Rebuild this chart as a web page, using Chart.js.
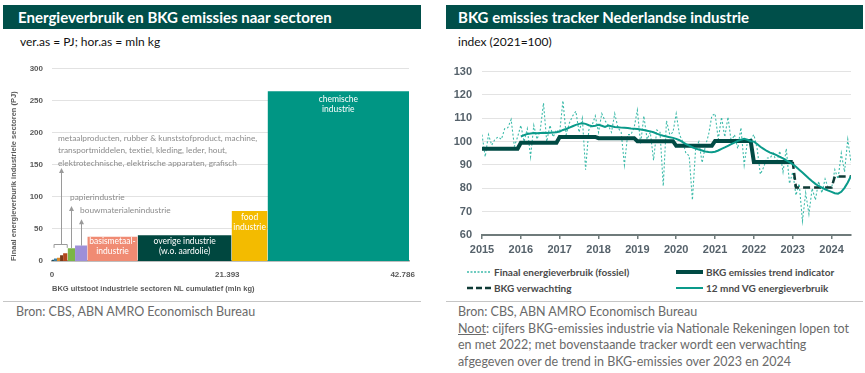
<!DOCTYPE html>
<html lang="nl">
<head>
<meta charset="utf-8">
<title>Energieverbruik en BKG emissies</title>
<script src="https://cdn.jsdelivr.net/npm/chart.js@4.4.1/dist/chart.umd.min.js"></script>
<style>
  body { margin: 0; width: 865px; height: 373px; background: #fff; position: relative; overflow: hidden; font-family: Lato, "Open Sans", sans-serif; }
  .titlebar { position: absolute; top: 5px; height: 24px; background: #004f4a; color: #fff; font-weight: 700; font-size: 15px; line-height: 24px; white-space: nowrap; }
  .sub { position: absolute; top: 34px; font-size: 12px; color: #111; white-space: nowrap; }
  .box { position: absolute; }
  .sep { position: absolute; top: 301px; height: 1px; background: #c6c6c6; }
  .note { position: absolute; top: 304px; font-size: 12.5px; line-height: 16.6px; color: #6a6a6a; }
  .leg { position: absolute; display: flex; align-items: center; font-size: 10px; font-weight: 700; color: #4a4a4a; white-space: nowrap; }
  .leg svg { margin-right: 3px; }
</style>
</head>
<body>
<div class="titlebar" style="left:3px;width:403px;padding-left:15px">Energieverbruik en BKG emissies naar sectoren</div>
<div class="sub" style="left:20px">ver.as = PJ; hor.as = mln kg</div>
<div class="box" style="left:5px;top:55px;width:415px;height:243px"><canvas id="sectorChart"></canvas></div>
<div class="sep" style="left:3px;width:418px"></div>
<div class="note" style="left:16px">Bron: CBS, ABN AMRO Economisch Bureau</div>

<div class="titlebar" style="left:446px;width:405px;padding-left:12px">BKG emissies tracker Nederlandse industrie</div>
<div class="sub" style="left:458px">index (2021=100)</div>
<div class="box" style="left:446px;top:55px;width:416px;height:210px"><canvas id="trackerChart"></canvas></div>
<div class="leg" style="left:467px;top:266px"><svg width="24" height="6"><line x1="0" y1="3" x2="24" y2="3" stroke="#3dbbaa" stroke-width="1.5" stroke-dasharray="2,1.5"/></svg>Finaal energieverbruik (fossiel)</div>
<div class="leg" style="left:676px;top:266px"><svg width="27" height="6"><line x1="0" y1="3" x2="27" y2="3" stroke="#004a44" stroke-width="4"/></svg>BKG emissies trend indicator</div>
<div class="leg" style="left:467px;top:282px"><svg width="24" height="6"><line x1="0" y1="3" x2="24" y2="3" stroke="#0f3b36" stroke-width="2.5" stroke-dasharray="6,3"/></svg>BKG verwachting</div>
<div class="leg" style="left:676px;top:282px"><svg width="27" height="6"><line x1="0" y1="3" x2="27" y2="3" stroke="#0a9a8a" stroke-width="2"/></svg>12 mnd VG energieverbruik</div>
<div class="sep" style="left:446px;width:417px"></div>
<div class="note" style="left:458px">Bron: CBS, ABN AMRO Economisch Bureau<br><u>Noot</u>: cijfers BKG-emissies industrie via Nationale Rekeningen lopen tot<br>en met 2022; met bovenstaande tracker wordt een verwachting<br>afgegeven over de trend in BKG-emissies over 2023 en 2024</div>

<script>
// ---- left chart: sectors (width = BKG uitstoot, height = energieverbruik) ----
const sectorNames = ["overig 1", "overig 2", "overig 3", "overig 4", "overig 5", "papierindustrie",
  "bouwmaterialenindustrie", "basismetaalindustrie", "overige industrie", "food industrie", "chemische industrie"];
const sectorEmissions = [240, 370, 370, 370, 550, 910, 1500, 6140, 11460, 4390, 17260]; // mln kg
const sectorEnergy = [2, 4, 5, 9, 12, 20, 24, 38, 40, 78, 265]; // PJ
const sectorColors = ["#1d4e5f", "#3f7fa0", "#d98a2b", "#7a3b1a", "#b4471c", "#7bb547",
  "#9d8fd8", "#f08b73", "#00473f", "#f3bb00", "#009684"];
const emissionTicks = [0, 21393, 42786];
const emissionTickLabels = ["0", "21.393", "42.786"];
const energyTicks = [0, 50, 100, 150, 200, 250, 300];

const sectorStarts = [];
sectorEmissions.reduce((acc, w) => { sectorStarts.push(acc); return acc + w; }, 0);
const emissionTotal = sectorEmissions.reduce((a, b) => a + b, 0);

const barLabels = [
  { sector: "basismetaalindustrie", lines: ["basismetaal-", "industrie"], y: 30.5 },
  { sector: "overige industrie", lines: ["overige industrie", "(w.o. aardolie)"], y: 31 },
  { sector: "food industrie", lines: ["food", "industrie"], y: 68 },
  { sector: "chemische industrie", lines: ["chemische", "industrie"], y: 252.5 },
];
const greyNotes = [
  { text: "metaalproducten, rubber & kunststofproduct, machine,", x: 730, y: 191 },
  { text: "transportmiddelen, textiel, kleding, leder, hout,", x: 730, y: 172 },
  { text: "elektrotechnische, elektrische apparaten, grafisch", x: 730, y: 153 },
  { text: "papierindustrie", x: 2200, y: 99 },
  { text: "bouwmaterialenindustrie", x: 3420, y: 79.5 },
];
const arrows = [
  { x: 1060, from: 25.8, to: 145 },
  { x: 2355, from: 20, to: 86 },
  { x: 3560, from: 24, to: 65 },
];
const bracket = { from: 250, to: 1860, y: 25.8, foot: 20.5 };

const sectorNotes = {
  id: "sectorNotes",
  afterDatasetsDraw(chart) {
    const { ctx, scales: { x, y } } = chart;
    ctx.save();
    ctx.textAlign = "center";
    ctx.textBaseline = "middle";
    ctx.fillStyle = "#ffffff";
    ctx.font = "8.5px Lato";
    barLabels.forEach((l) => {
      const i = sectorNames.indexOf(l.sector);
      const cx = x.getPixelForValue(sectorStarts[i] + sectorEmissions[i] / 2);
      l.lines.forEach((t, k) => ctx.fillText(t, cx, y.getPixelForValue(l.y) + k * 10));
    });

    ctx.fillStyle = "#8c8c8c";
    ctx.textAlign = "left";
    ctx.font = "8.3px Lato";
    greyNotes.forEach((n) => ctx.fillText(n.text, x.getPixelForValue(n.x), y.getPixelForValue(n.y)));

    ctx.strokeStyle = "#9a9a9a";
    ctx.lineWidth = 1;
    arrows.forEach((a) => {
      const px = Math.round(x.getPixelForValue(a.x)) + 0.5;
      const y0 = y.getPixelForValue(a.from);
      const y1 = y.getPixelForValue(a.to);
      ctx.beginPath();
      ctx.moveTo(px, y0);
      ctx.lineTo(px, y1 + 4);
      ctx.stroke();
      ctx.beginPath();
      ctx.moveTo(px, y1);
      ctx.lineTo(px - 2.5, y1 + 5);
      ctx.lineTo(px + 2.5, y1 + 5);
      ctx.closePath();
      ctx.fillStyle = "#9a9a9a";
      ctx.fill();
    });
    const bx0 = x.getPixelForValue(bracket.from);
    const bx1 = x.getPixelForValue(bracket.to);
    const by = Math.round(y.getPixelForValue(bracket.y)) + 0.5;
    const bf = y.getPixelForValue(bracket.foot);
    ctx.beginPath();
    ctx.moveTo(bx0, bf);
    ctx.lineTo(bx0, by);
    ctx.lineTo(bx1, by);
    ctx.lineTo(bx1, bf);
    ctx.stroke();
    ctx.restore();
  },
};

const axisGrey = "#5a5a5a";
new Chart(document.getElementById("sectorChart"), {
  type: "line",
  data: {
    datasets: sectorNames.map((name, i) => ({
      label: name,
      data: [
        { x: sectorStarts[i], y: sectorEnergy[i] },
        { x: sectorStarts[i] + sectorEmissions[i], y: sectorEnergy[i] },
      ],
      fill: "origin",
      backgroundColor: sectorColors[i],
      borderWidth: 0,
      pointRadius: 0,
      tension: 0,
    })),
  },
  options: {
    responsive: true,
    maintainAspectRatio: false,
    animation: false,
    layout: { padding: { top: 12, right: 11 } },
    plugins: { legend: { display: false }, tooltip: { enabled: false } },
    scales: {
      x: {
        type: "linear",
        min: 0,
        max: emissionTotal,
        afterBuildTicks: (scale) => { scale.ticks = emissionTicks.map((v) => ({ value: v })); },
        afterFit: (scale) => { scale.height = 37; },
        ticks: {
          callback: (v) => emissionTickLabels[emissionTicks.indexOf(v)],
          color: axisGrey,
          font: { size: 8, weight: "bold" },
          padding: 1,
          maxRotation: 0,
          autoSkip: false,
        },
        grid: { display: false },
        border: { display: true, color: "#9a9a9a", width: 1.5 },
        title: {
          display: true,
          align: "start",
          text: "BKG uitstoot industriele sectoren NL cumulatief (mln kg)",
          color: axisGrey,
          font: { size: 7.5, weight: "bold" },
          padding: { top: 0, bottom: 5 },
        },
      },
      y: {
        min: 0,
        max: 300,
        afterBuildTicks: (scale) => { scale.ticks = energyTicks.map((v) => ({ value: v })); },
        afterFit: (scale) => { scale.width = 47; },
        ticks: { color: axisGrey, font: { size: 8, weight: "bold" }, padding: 9 },
        grid: { color: "#e2e2e2", drawTicks: false },
        border: { display: false },
        title: {
          display: true,
          align: "start",
          text: "Finaal energieverburik industriele sectoren (PJ)",
          color: axisGrey,
          font: { size: 7.5, weight: "bold" },
          padding: { top: 4, bottom: 0 },
        },
      },
    },
  },
  plugins: [sectorNotes],
});

// ---- right chart: monthly index 2021=100, Jan 2015 - Jul 2024 ----
const firstYear = 2015;
const yearTicks = [2015, 2016, 2017, 2018, 2019, 2020, 2021, 2022, 2023, 2024];
const indexTicks = [60, 70, 80, 90, 100, 110, 120, 130];

// Finaal energieverbruik (fossiel), from 2015-01
const fossielMonthly = [
  103, 93.5, 103, 98.5, 101, 102, 101, 105.5, 106, 109.5, 98, 102,
  107, 100, 105.5, 93.5, 107, 101, 105, 116.5, 100, 107, 102, 105,
  104, 117.5, 103, 108, 111, 113, 104, 110, 88, 105, 107, 111,
  104, 112, 109, 107, 104, 112, 106, 104, 90, 103, 103, 106,
  113.5, 99, 111, 101, 104, 92, 105, 104, 81, 109, 103, 104,
  112, 103, 100, 95, 94, 75, 97, 100, 91, 98, 103, 111,
  112, 101, 110.5, 102, 110.5, 100, 103, 97, 106, 90, 100, 101,
  103, 97, 86, 89, 93, 93, 95, 91, 96, 87, 97, 82,
  87, 77, 82, 66, 78, 69, 80, 75, 83, 78, 84, 80,
  80, 88, 84, 95, 87, 101, 91,
];
// BKG emissies trend indicator, from 2015-01 to 2023-01
const trendIndicator = [
  97, 97, 97, 97, 97, 97, 97, 97, 97, 97, 97, 97,
  99.5, 99.5, 99.5, 99.5, 99.5, 99.5, 99.5, 99.5, 99.5, 99.5, 99.5, 99.5,
  102, 102, 102, 102, 102, 102, 102, 102, 102, 102, 102, 102,
  101.5, 101.5, 101.5, 101.5, 101.5, 101.5, 101.5, 101.5, 101.5, 101.5, 101.5, 101.5,
  100.2, 100.2, 100.2, 100.2, 100.2, 100.2, 100.2, 100.2, 100.2, 100.2, 100.2, 100.2,
  98.2, 98.2, 98.2, 98.2, 98.2, 98.2, 98.2, 98.2, 98.2, 98.2, 98.2, 98.2,
  100.3, 100.3, 100.3, 100.3, 100.3, 100.3, 100.3, 100.3, 100.3, 100.3, 100.3, 100.3,
  91.3, 91.3, 91.3, 91.3, 91.3, 91.3, 91.3, 91.3, 91.3, 91.3, 91.3, 91.3,
  91.3,
];
// BKG verwachting, from 2023-01
const verwachtingStart = 96;
const verwachting = [
  91.3, 80.3, 80.3, 80.3, 80.3, 80.3, 80.3, 80.3, 80.3, 80.3, 80.3, 80.3,
  80.3, 85.1, 85.1, 85.1, 85.1, 85.1, 85.1,
];
// 12 mnd VG energieverbruik, from 2016-01
const vgStart = 12;
const vg12 = [
  102.2, 102.8, 103.3, 103.5, 103.7, 103.6, 103.7, 103.8, 103.7, 103.8, 103.9, 104.0,
  104.3, 105.0, 105.4, 106.0, 106.6, 107.2, 107.6, 107.9, 107.6, 107.0, 106.6, 106.8,
  107.2, 106.8, 106.3, 106.9, 106.6, 106.3, 106.2, 106.0, 105.9, 105.8, 105.6, 105.5,
  105.4, 105.2, 105.0, 104.7, 104.4, 104.0, 103.4, 102.9, 102.5, 102.2, 101.9, 101.6,
  101.2, 100.6, 99.8, 98.9, 98.3, 97.6, 97.0, 96.6, 96.2, 95.8, 95.6, 95.5,
  95.7, 96.2, 96.9, 97.5, 98.2, 98.9, 99.6, 100.3, 100.8, 101.2, 100.8, 100.2,
  100.0, 99.0, 97.8, 96.9, 96.0, 95.3, 94.8, 94.2, 93.5, 92.8, 92.0, 91.2,
  90.3, 89.2, 88.0, 86.8, 85.5, 84.2, 83.0, 81.9, 81.0, 80.3, 79.6, 79.0,
  78.5, 77.9, 77.7, 78.5, 80.2, 82.5, 85.3,
];

const toPoints = (values, start) => values.map((v, i) => ({ x: firstYear + (start + i) / 12, y: v }));
const tickGrey = "#56626b";

new Chart(document.getElementById("trackerChart"), {
  type: "line",
  data: {
    datasets: [
      {
        label: "12 mnd VG energieverbruik",
        data: toPoints(vg12, vgStart),
        borderColor: "#0a9a8a",
        borderWidth: 2,
        order: 0,
      },
      {
        label: "BKG emissies trend indicator",
        data: toPoints(trendIndicator, 0),
        borderColor: "#004a44",
        borderWidth: 4,
        order: 1,
      },
      {
        label: "BKG verwachting",
        data: toPoints(verwachting, verwachtingStart),
        borderColor: "#0f3b36",
        borderWidth: 2.5,
        borderDash: [7, 4],
        order: 2,
      },
      {
        label: "Finaal energieverbruik (fossiel)",
        data: toPoints(fossielMonthly, 0),
        borderColor: "#3dbbaa",
        borderWidth: 1.1,
        borderDash: [2, 2],
        order: 3,
      },
    ],
  },
  options: {
    responsive: true,
    maintainAspectRatio: false,
    animation: false,
    elements: { point: { radius: 0 }, line: { tension: 0, fill: false } },
    layout: { padding: { top: 13, right: 11 } },
    plugins: { legend: { display: false }, tooltip: { enabled: false } },
    scales: {
      x: {
        type: "linear",
        min: 2015,
        max: 2024.5,
        afterBuildTicks: (scale) => { scale.ticks = yearTicks.map((v) => ({ value: v })); },
        afterFit: (scale) => { scale.height = 30; },
        ticks: {
          callback: (v) => String(v),
          color: tickGrey,
          font: { size: 11, weight: "bold" },
          padding: 4,
          maxRotation: 0,
          autoSkip: false,
        },
        grid: { display: true, drawOnChartArea: false, drawTicks: true, tickLength: 4, color: "#6f7b7b", lineWidth: 1.5 },
        border: { display: true, color: "#6f7b7b", width: 2 },
      },
      y: {
        min: 60,
        max: 130,
        afterBuildTicks: (scale) => { scale.ticks = indexTicks.map((v) => ({ value: v })); },
        afterFit: (scale) => { scale.width = 36; },
        ticks: { color: tickGrey, font: { size: 11, weight: "bold" }, padding: 10 },
        grid: { color: "#e3e3e3", drawTicks: false },
        border: { display: false },
      },
    },
  },
});
</script>
</body>
</html>
